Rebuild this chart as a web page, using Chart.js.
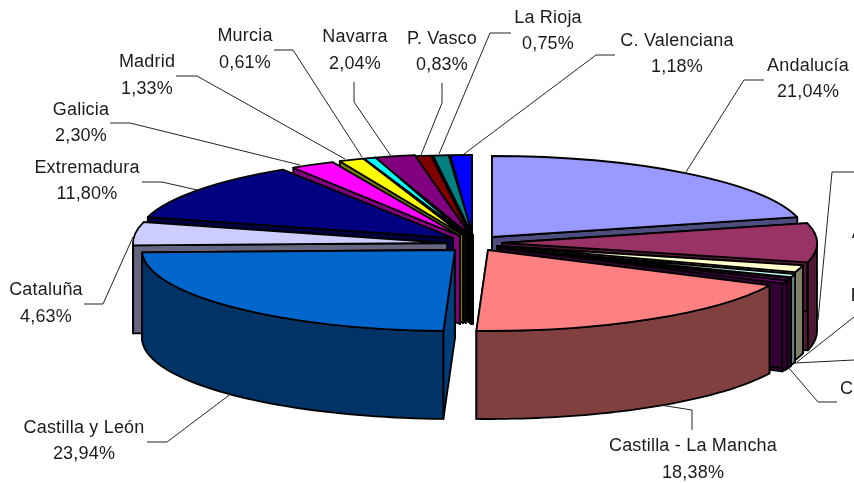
<!DOCTYPE html>
<html><head><meta charset="utf-8">
<style>html,body{margin:0;padding:0;background:#fff}canvas{display:block}</style>
<script src="https://cdn.jsdelivr.net/npm/chart.js@4"></script>
</head><body><canvas id="c" width="854" height="483"></canvas>
<script>
// Data (clockwise from 12 o'clock). The last few right-hand names/values are cut off in the picture and are estimated.
const categories = ["Andalucía","Aragón","Asturias","Baleares","Canarias","Cantabria","Castilla - La Mancha","Castilla y León","Cataluña","Extremadura","Galicia","Madrid","Murcia","Navarra","P. Vasco","La Rioja","C. Valenciana"];
const values = [21.04,7.8,1.4,0.6,0.77,0.6,18.38,23.94,4.63,11.80,2.30,1.33,0.61,2.04,0.83,0.75,1.18];
const colors = ["#9999FF","#993366","#FFFFCC","#CCFFFF","#660066","#660066","#FF8080","#0066CC","#CCCCFF","#000080","#FF00FF","#FFFF00","#00FFFF","#800080","#800000","#008080","#0000FF"];

// Layout: the projected apex and radius of each exploded slice
const apexX = [492,502,497,497,497,499,488,455,447,453,460,463,466,470,471,473,472];
const apexY = [237,243,246,248,249,248,250,250,243,238,236,235,235,235,236,236,236];
const radiusX = [315,315,315,315,315,315,313,313,314,316,310,300,305,320,330,330,290];
const radiusY = 81, depth = 88;
const cutShade = [.5,.5,.5,.5,.5,.5,.5,.62,.5,.5,.5,.5,.05,.05,.05,.05,.05];
const paintOrder = [16,15,14,13,12,11,10,9,8,0,1,2,3,4,5,7,6];

// Layout: label centre x, first line y, second line y
const labelPos = [[808,66,92],[900,161,187],[885,233,259],[887,296,322],[900,346,372],[880,389,415],[693,446,473],[84,428,454],[46,290,317],[87,168,194],[81,110,136],[147,62,89],[245,36,63],[355,37,64],[442,39,65],[548,18,44],[677,41,67]];
const leaders = [
 [[764,80],[744,80],[686,172]],
 [[854,172],[832,172],[818,320]],
 null,
 [[854,317],[797,362]],
 [[854,360],[795,363]],
 [[837,402],[818,402],[788,367]],
 [[692,430],[692,410],[660,405]],
 [[147,442],[167,442],[232,393]],
 [[84,304],[103,304],[133,237]],
 [[142,182],[162,182],[197,190]],
 [[110,123],[130,123],[300,165]],
 [[176,76],[197,76],[345,159]],
 [[274,50],[293,50],[362,157]],
 [[354,82],[354,102],[391,156]],
 [[442,83],[442,103],[421,155]],
 [[511,33],[490,33],[439,154]],
 [[615,55],[596,55],[464,154]]
];

function shade(hex,f){
  const n=parseInt(hex.slice(1),16);
  return `rgb(${Math.round((n>>16&255)*f)},${Math.round((n>>8&255)*f)},${Math.round((n&255)*f)})`;
}
const pct = v => v.toFixed(2).replace('.',',');

const pie3d = {
  id:'pie3d',
  beforeDatasetDraw(chart,args){
    const ctx=chart.ctx, arcs=chart.getDatasetMeta(0).data;
    const outline=()=>{ctx.strokeStyle='#000';ctx.lineWidth=1.8;ctx.lineJoin='round';ctx.stroke();};
    for(const i of paintOrder){
      const el=arcs[i], x0=apexX[i], y0=apexY[i], a=radiusX[i], b=radiusY;
      const P=(ang,dz=0)=>[x0+a*Math.cos(ang), y0+b*Math.sin(ang)+dz];
      const s=el.startAngle, e=el.endAngle;
      const poly=pts=>{ctx.beginPath();pts.forEach((p,k)=>k?ctx.lineTo(p[0],p[1]):ctx.moveTo(p[0],p[1]));ctx.closePath();};
      // cut faces
      for(const ang of [e,s]){
        poly([[x0,y0],P(ang),P(ang,depth),[x0,y0+depth]]);
        ctx.fillStyle=shade(colors[i],cutShade[i]);ctx.fill();outline();
      }
      // rim: only the part facing the viewer
      const u=Math.max(s,0), v=Math.min(e,Math.PI);
      if(v>u){
        const pts=[];const n=48;
        for(let k=0;k<=n;k++)pts.push(P(u+(v-u)*k/n));
        for(let k=n;k>=0;k--)pts.push(P(u+(v-u)*k/n,depth));
        poly(pts);ctx.fillStyle=shade(colors[i],.5);ctx.fill();outline();
      }
      // top face drawn by the library's arc element under the projection
      ctx.save();
      const R=el.outerRadius;
      ctx.transform(a/R,0,0,b/R,x0-el.x*a/R,y0-el.y*b/R);
      el.draw(ctx);
      ctx.beginPath();ctx.moveTo(el.x,el.y);ctx.arc(el.x,el.y,R,s,e);ctx.closePath();
      ctx.restore();
      outline();
    }
    return false;
  },
  afterDraw(chart){
    const ctx=chart.ctx;
    ctx.save();
    leaders.forEach(l=>{ if(!l) return;
      ctx.beginPath();l.forEach((p,k)=>k?ctx.lineTo(p[0],p[1]):ctx.moveTo(p[0],p[1]));
      ctx.strokeStyle='#222';ctx.lineWidth=1;ctx.stroke();
    });
    ctx.font='18px "Liberation Sans", Arial, sans-serif';
    ctx.fillStyle='#1c1c1c';ctx.textAlign='center';ctx.textBaseline='middle';
    ctx.letterSpacing='0.2px';
    categories.forEach((name,i)=>{
      const p=labelPos[i];
      ctx.fillText(name,p[0],p[1]);
      ctx.fillText(pct(values[i])+'%',p[0],p[2]);
    });
    ctx.restore();
  }
};

new Chart(document.getElementById('c'),{
  type:'pie',
  data:{labels:categories,datasets:[{data:values,backgroundColor:colors,borderWidth:0}]},
  options:{responsive:false,animation:false,events:[],
    plugins:{legend:{display:false},tooltip:{enabled:false}}},
  plugins:[pie3d]
});
</script></body></html>
